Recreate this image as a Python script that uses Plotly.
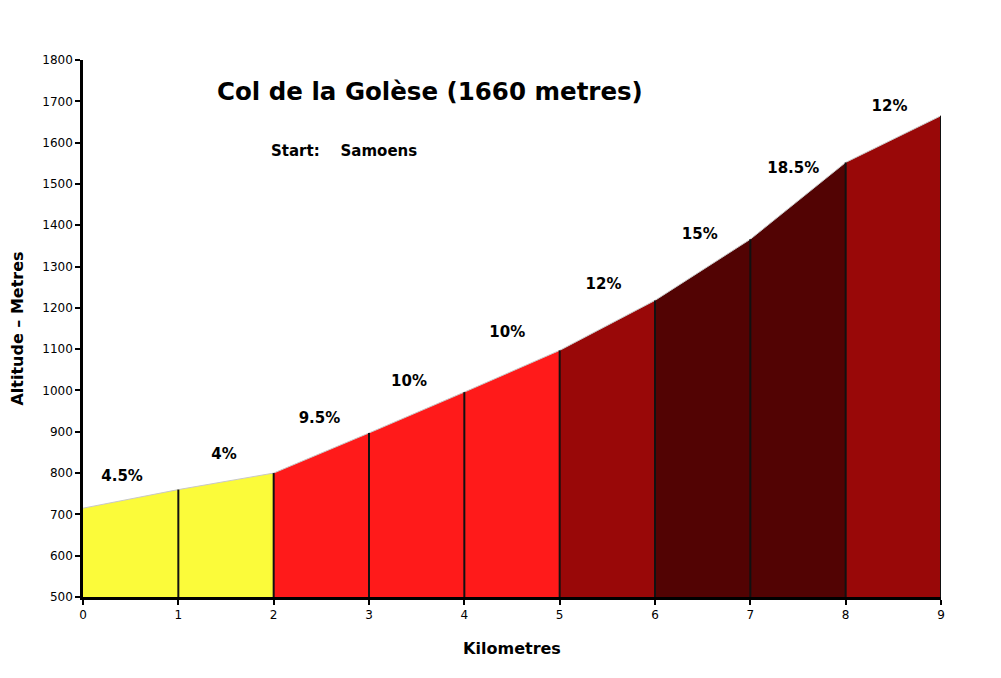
import plotly.graph_objects as go

# distance (km) and altitude (m) at each km mark
km = [0, 1, 2, 3, 4, 5, 6, 7, 8, 9]
altitude = [715, 760, 800, 897, 996, 1097, 1218, 1366, 1552, 1665]

# gradient labels for each km segment
gradients = ["4.5%", "4%", "9.5%", "10%", "10%", "12%", "15%", "18.5%", "12%"]
label_x = [0.41, 1.48, 2.48, 3.42, 4.45, 5.46, 6.47, 7.45, 8.46]
label_y = [790, 844, 931, 1020, 1139, 1255, 1376, 1536, 1686]

# colour by gradient band
colours = ["#fbfb3a", "#fbfb3a", "#ff1a1a", "#ff1a1a", "#ff1a1a",
           "#990808", "#520303", "#520303", "#990808"]

base = 500

fig = go.Figure()

for i in range(len(km) - 1):
    xs = [km[i], km[i], km[i + 1], km[i + 1], km[i]]
    ys = [base, altitude[i], altitude[i + 1], base, base]
    fig.add_trace(go.Scatter(
        x=xs, y=ys, mode="lines", fill="toself",
        fillcolor=colours[i], line=dict(color=colours[i], width=0),
        hoverinfo="skip", showlegend=False,
    ))

# light grey top edge
fig.add_trace(go.Scatter(
    x=km, y=altitude, mode="lines",
    line=dict(color="#c8c8c8", width=1),
    hoverinfo="skip", showlegend=False,
))

# black km dividers
for i in range(1, len(km)):
    fig.add_trace(go.Scatter(
        x=[km[i], km[i]], y=[base, altitude[i]], mode="lines",
        line=dict(color="#111111", width=2),
        hoverinfo="skip", showlegend=False,
    ))

fig.add_trace(go.Scatter(
    x=label_x, y=label_y, mode="text",
    text=["<b>" + g + "</b>" for g in gradients],
    textfont=dict(family="DejaVu Sans", size=15, color="black"),
    hoverinfo="skip", showlegend=False,
))

fig.add_annotation(
    text="<b>Col de la Golèse (1660 metres)</b>",
    xref="paper", yref="paper", x=0.404, y=0.972,
    showarrow=False, font=dict(family="DejaVu Sans", size=24.5, color="black"),
)
fig.add_annotation(
    text="<b>Start:    Samoens</b>",
    xref="paper", yref="paper", x=0.217, y=0.851, xanchor="left",
    showarrow=False, font=dict(family="DejaVu Sans", size=15, color="black"),
)

axis_common = dict(
    showgrid=False, zeroline=False, showline=True, automargin=False,
    linecolor="black", linewidth=2.5, ticks="outside",
    tickcolor="black", tickwidth=2, ticklen=5,
    tickfont=dict(family="DejaVu Sans", size=12, color="black"),
)

fig.update_xaxes(
    range=[0, 9], tickmode="array", tickvals=km,
    title=dict(text="<b>Kilometres</b>", standoff=22,
               font=dict(family="DejaVu Sans", size=16, color="black")),
    **axis_common,
)
fig.update_yaxes(
    range=[500, 1800], tickmode="linear", tick0=500, dtick=100,
    title=dict(text="<b>Altitude – Metres</b>", standoff=16,
               font=dict(family="DejaVu Sans", size=16, color="black")),
    **axis_common,
)

fig.update_layout(
    width=1001, height=678,
    margin=dict(l=75, r=68, t=52, b=89),
    plot_bgcolor="white", paper_bgcolor="white",
)

fig.write_html("out.html")
